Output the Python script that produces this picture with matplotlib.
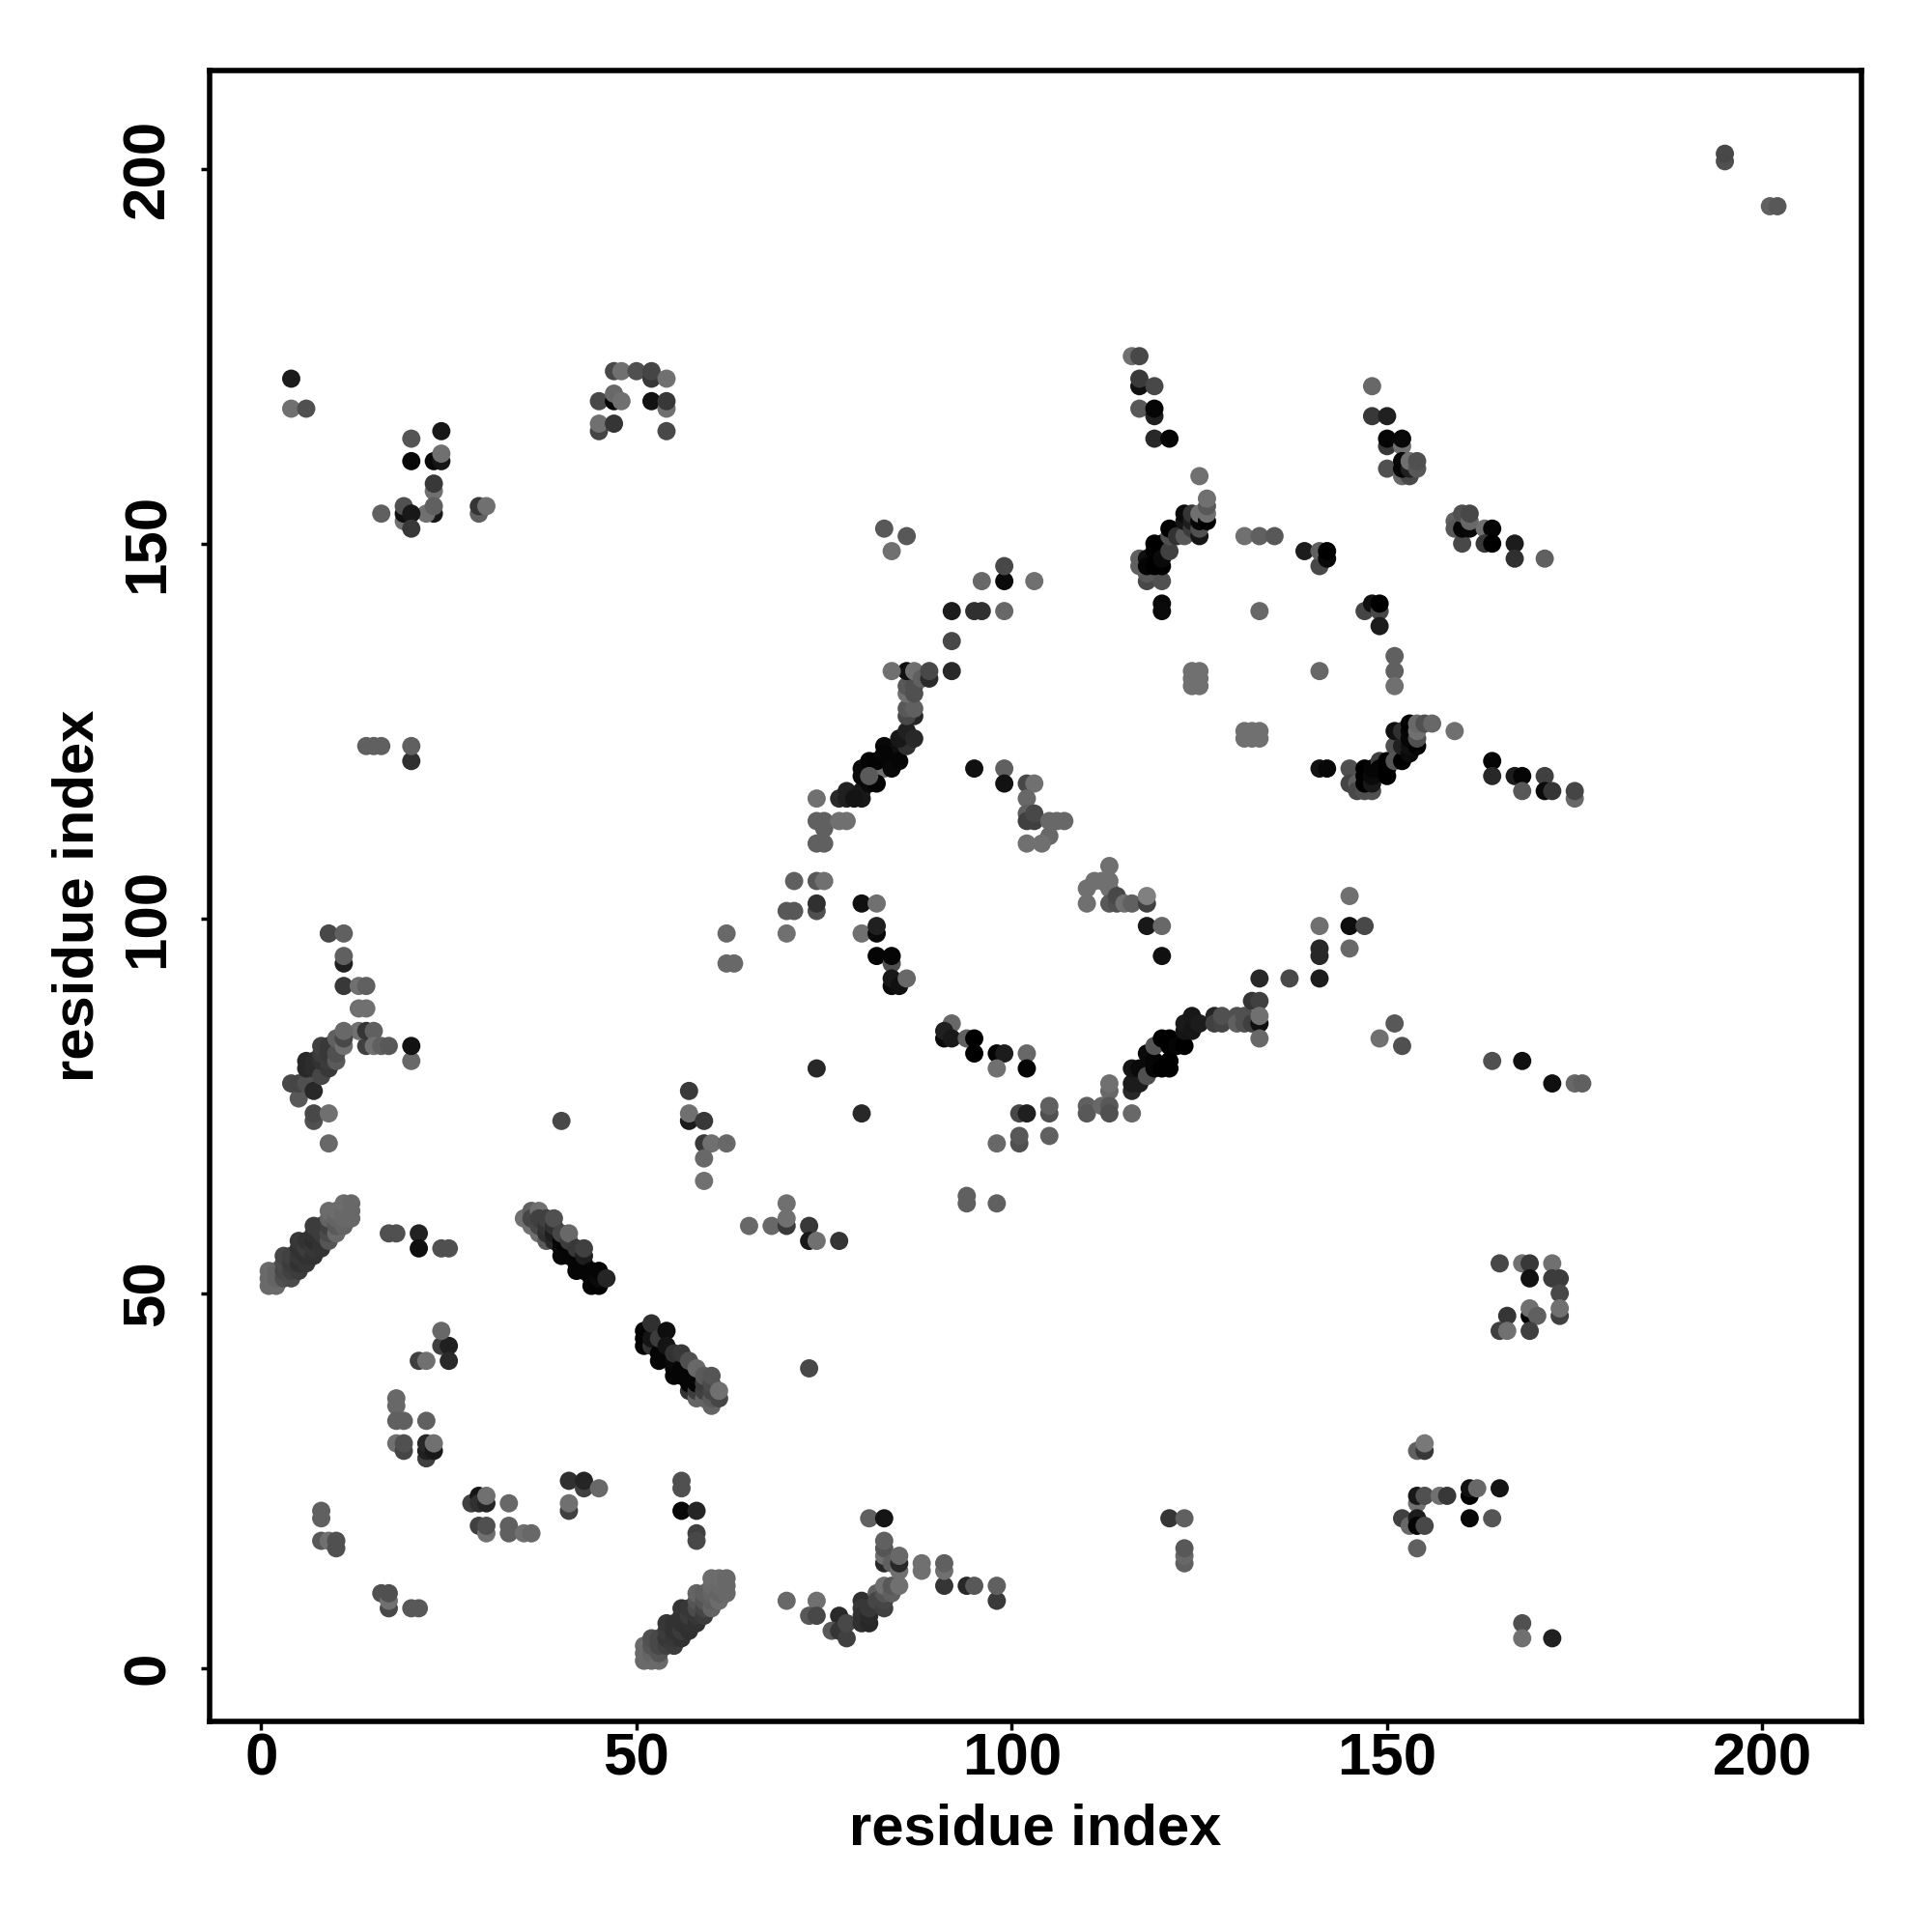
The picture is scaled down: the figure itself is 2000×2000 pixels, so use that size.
#!/usr/bin/env python3
"""Residue contact map, grey level = contact strength."""
import matplotlib
matplotlib.use('Agg')
import matplotlib.pyplot as plt

# each contact is (residue i, residue j, grey 0-255), drawn in list order
helix_a = [(1,51,106),(1,52,106),(1,53,106),(2,51,106),(2,52,100),(2,53,100),
           (3,52,80),(3,53,72),(3,54,75),(3,55,70),(4,52,75),(4,53,65),(4,54,60),(4,55,65),
           (5,53,60),(5,54,50),(5,55,55),(5,56,50),(5,57,55),(6,54,55),(6,55,50),(6,56,60),(6,57,50),
           (7,55,50),(7,56,55),(7,57,45),(7,58,50),(7,59,60),(8,56,52),(8,57,50),(8,58,60),(8,59,60),
           (9,57,85),(9,58,75),(9,59,65),(9,60,100),(9,61,108),(10,58,105),(10,59,90),(10,60,100),(10,61,108),
           (11,59,100),(11,60,104),(11,61,104),(11,62,108),(12,60,104),(12,61,104),(12,62,104)]
helix_a_side = [(17,58,80),(18,58,80),(21,58,34),(21,56,14),(24,56,80),(25,56,80)]
helix_b = [(36,59,112),(35,60,112),(36,61,96),(36,60,70),(37,58,112),(37,61,112),(37,59,72),(37,60,64),
           (38,57,90),(38,58,48),(38,59,53),(38,60,64),(39,57,40),(39,58,30),(39,59,48),(39,60,80),
           (40,55,8),(40,56,8),(40,57,5),(40,58,70),(41,55,5),(41,56,5),(41,57,60),(41,58,104),
           (42,53,5),(42,54,5),(42,55,5),(42,56,56),(43,53,5),(43,54,5),(43,55,30),(43,56,64),
           (44,51,5),(44,52,5),(44,53,5),(45,51,3),(45,52,10),(45,53,5),(46,52,37)]
helix_c = [(51,43,3),(51,44,3),(51,45,3),(52,43,50),(52,44,20),(52,46,48),(53,41,5),(53,42,5),(53,44,60),
           (54,45,14),(54,43,20),(55,39,5),(55,40,5),(55,41,10),(55,42,50),(56,39,5),(56,40,5),(56,42,56),
           (57,37,50),(57,38,5),(57,39,5),(57,41,80),(58,36,100),(58,37,60),(58,38,5),(58,40,104),
           (59,36,100),(59,37,64),(59,38,60),(59,39,90),(60,35,100),(60,36,90),(60,37,70),(60,38,75),(60,39,85),
           (61,36,70),(61,37,112)]
low_left = [(24,43,64),(25,43,32),(25,41,42),(24,45,104),(21,41,64),(22,41,112),
            (18,36,104),(18,35,104),(18,33,96),(19,33,96),(22,33,96),
            (18,30,112),(19,29,69),(19,30,80),(22,28,64),(22,29,32),(22,30,40),(23,29,24),(23,30,112),
            (28,22,64),(29,23,21),(29,22,48),(30,22,37),(30,23,112),(33,22,104),
            (29,19,64),(30,18,112),(30,19,80),(33,19,96),(33,18,96),(35,18,112),(36,18,104),
            (41,25,48),(43,24,64),(43,25,37),(45,24,104),(41,21,64),(41,22,112),
            (56,25,80),(56,24,80),(56,21,8),(58,21,37),(58,18,64),(58,17,72),
            (8,21,96),(8,20,96),(8,17,88),(9,17,112),(10,16,80),(10,17,80),
            (16,10,80),(17,8,72),(17,9,112),(17,10,80),(20,8,88),(21,8,88)]
helix_d = [(51,1,106),(51,2,106),(51,3,106),(52,1,106),(52,2,100),(52,3,85),(52,4,80),
           (53,1,106),(53,2,85),(53,3,72),(53,4,72),(54,3,65),(54,4,55),(54,5,60),(54,6,55),
           (55,3,60),(55,4,55),(55,5,50),(55,6,50),(56,4,50),(56,5,60),(56,6,50),(56,7,50),(56,8,52),
           (57,5,48),(57,6,50),(57,7,60),(57,8,55),(58,6,50),(58,7,55),(58,8,75),(58,9,85),(58,10,100),
           (59,7,60),(59,8,70),(59,9,85),(59,10,95),(60,8,100),(60,9,95),(60,10,100),(60,11,105),(60,12,108),
           (61,9,108),(61,10,100),(61,11,104),(61,12,108),(62,10,104),(62,11,104),(62,12,104)]
low_mid = [(70,9,104),(74,9,112),(73,7,88),(74,7,72),(77,7,42),(76,5,88),(77,5,53),(78,4,64),(78,6,72),
           (80,9,48),(80,8,56),(80,7,50),(80,6,48),(81,6,40),(81,7,42),(81,8,56),
           (82,10,96),(82,9,70),(83,8,64),(83,9,70),(83,10,85),(83,11,112),(84,10,96),(84,11,88),(85,11,112),
           (83,14,40),(83,15,112),(83,16,85),(83,17,96),(84,14,96),(85,13,112),(85,14,40),(85,15,104),
           (81,20,96),(83,20,21),(88,13,112),(88,14,112),(91,11,53),(91,13,112),(91,14,96),
           (94,11,40),(95,11,88),(98,9,58),(98,11,96),
           (121,20,53),(123,20,96),(123,14,96),(123,15,104),(123,16,88)]
mid_row = [(65,59,104),(68,59,104),(70,59,58),(70,60,112),(70,62,112),(73,59,56),(73,57,24),(74,57,112),(77,57,53),
           (73,40,72),(94,63,96),(94,62,96),(98,62,96),(98,70,104),(101,70,80),(101,71,88),(105,71,96),
           (80,74,40),(101,74,72),(102,74,31),(105,74,80),(105,75,96)]
left_arm = [(14,83,64),(9,98,72),(11,98,96),(11,94,32),(11,95,96),(11,91,56),(13,91,112),(14,91,96),
            (13,88,112),(14,88,112),(13,85,112),(14,85,53),(15,85,96),(15,83,112),(16,83,96),(17,83,88),
            (20,81,104),(20,83,18),
            (5,76,88),(4,78,72),(5,78,69),(6,78,80),(7,77,40),(6,81,40),(6,80,40),(7,80,44),(7,81,44),
            (8,79,70),(8,81,50),(8,82,60),(8,83,64),(9,80,56),(9,81,60),(9,82,56),(9,83,56),
            (10,81,90),(10,82,80),(10,84,96),(11,83,112),(11,84,72),(11,85,104),
            (7,73,80),(7,74,72),(9,74,112),(9,70,104),(40,73,72)]
mid_left = [(57,73,26),(57,74,112),(57,77,58),(59,73,56),(59,70,56),(60,70,112),(62,70,104),(59,68,104),(59,65,112),
            (62,98,104),(62,94,104),(63,94,104),(14,123,96),(15,123,96),(16,123,96),(20,121,48),(20,123,96)]
helix_e = [(70,98,112),(70,101,88),(71,101,88),(71,105,96),(74,101,80),(74,102,48),(74,105,88),(75,105,112),
           (74,110,96),(75,110,96),(75,112,96),(74,113,96),(75,113,96),(77,113,112),(78,113,112),
           (74,116,112),(77,116,42),(78,116,32),(78,117,32),(80,116,24),(80,117,24),(79,116,20),(83,120,112),
           (81,118,10),(82,118,5),(80,119,10),(80,120,10),(81,121,5),(82,121,3),(81,119,90),(83,123,8),
           (84,120,8),(84,121,8),(84,122,15),(85,121,5),(83,122,5),(86,123,48),(85,124,24),(86,125,32),(87,124,40),
           (87,127,37),(86,127,72),(86,128,88),(87,128,96),(86,130,112),(86,131,88),(87,130,80),(87,131,80),
           (86,133,16),(84,133,112),(87,133,112),(88,132,96),(89,132,42),(89,133,72),(92,133,40),
           (92,137,72),(92,141,28),(95,141,48),(96,141,48),(99,141,104),
           (96,145,104),(99,145,10),(99,147,72),(103,145,112),(83,152,88),(86,151,88),(84,149,112)]
inner_a = [(95,120,16),(99,120,96),(99,118,18),(102,118,72),(103,118,112),(102,116,104),
           (102,114,96),(102,113,64),(103,113,64),(103,114,72),(105,113,104),(106,113,104),(107,113,104),
           (105,111,104),(102,110,112),(104,110,112)]
inner_b = [(110,102,112),(110,104,112),(111,105,112),(113,107,112),(112,105,112),(113,105,112),(113,104,112),
           (113,102,88),(114,102,80),(114,103,72),(115,102,112),(116,102,96),(118,102,64),(118,103,128),
           (118,99,24),(120,99,104),(120,95,16)]
inner_c = [(80,102,16),(82,102,112),(80,98,112),(82,98,10),(82,99,32),(82,95,5),(84,94,80),(84,95,5),
           (84,91,10),(84,92,24),(85,91,16),(86,92,104),
           (92,86,104),(91,84,10),(91,85,32),(92,84,24),(94,84,96),(95,84,0),(95,82,0),(98,82,5),(99,82,28),
           (102,82,104),(98,80,112),(102,80,5),(74,80,40)]
helix_f = [(110,75,96),(110,74,88),(112,75,104),(113,77,104),(113,78,112),(113,75,88),(113,74,80),(116,74,104),
           (116,77,40),(116,78,28),(117,78,28),(116,80,21),(117,80,10),(118,79,80),(118,82,10),(119,80,5),(119,81,5),
           (120,80,0),(119,83,85),(120,84,0),(121,80,0),(121,81,0),(121,83,0),(121,84,0),(122,83,5),(123,83,0),
           (123,85,20),(123,86,26),(124,85,21),(124,87,24),(125,86,28),(127,87,37),(127,86,64),(128,86,69),(128,87,80),
           (130,87,80),(130,86,96),(131,87,80),(131,86,80),(132,86,64),(132,89,53),(133,86,16),(133,89,64),(133,87,112),
           (133,84,104),(133,92,40),(137,92,72),(141,92,28),(141,96,40),(141,95,40),(141,99,112),
           (145,99,14),(147,99,72),(145,96,104),(145,103,112)]
right_low = [(151,86,88),(149,84,112),(152,83,80),(164,81,80),(168,81,16),(172,78,16),(175,78,104),(176,78,96)]
helix_g = [(141,120,18),(142,120,8),(145,120,80),(145,118,69),(146,118,96),(146,117,72),(147,117,80),(148,117,80),
           (147,120,0),(147,119,0),(147,118,0),(148,118,24),(148,119,10),(148,120,5),(149,121,64),(149,120,5),
           (150,121,0),(150,119,0),(150,120,0),(151,123,80),(151,125,16),(151,121,85),(152,121,0),(152,123,32),(152,125,48),
           (153,122,10),(153,123,16),(153,124,5),(153,125,5),(153,126,0),(154,123,0),(154,124,80),(154,125,112),(154,126,104),
           (155,126,80),(156,126,104),(159,125,112)]
right_mid = [(164,121,5),(164,119,40),(167,119,28),(168,119,5),(168,117,88),(171,119,64),(171,117,10),(172,117,53),
             (175,116,104),(175,117,69),(124,133,112),(125,133,112),(124,132,112),(125,132,112),(124,131,112),(125,131,112),
             (131,125,112),(132,125,112),(133,125,112),(131,124,112),(132,124,112),(133,124,112),
             (133,141,104),(141,133,104),(151,135,96),(151,133,96),(151,131,112),
             (147,141,69),(148,142,16),(149,141,72),(149,142,0),(149,139,28)]
helix_h = [(116,175,112),(117,175,72),(117,171,16),(117,172,58),(119,171,72),(117,168,88),(119,167,32),(119,168,5),
           (119,164,40),(121,164,5),(125,159,112),
           (118,145,72),(120,145,80),(118,146,88),(117,148,96),(117,147,96),(118,148,16),(118,147,5),(119,147,0),(120,147,0),
           (119,149,0),(119,150,0),(120,150,0),(120,148,10),(121,149,64),(121,151,80),(121,152,0),
           (120,142,8),(120,141,10),(122,151,50),(123,151,88),(123,153,21),(123,154,10),(124,152,60),(124,153,30),(124,154,53),
           (125,151,21),(125,152,80),(125,153,5),(125,154,112),(126,153,0),(126,154,112),(126,155,88),(126,156,112)]
top_right = [(131,151,112),(133,151,96),(135,151,88),(139,149,28),(141,147,72),(141,149,96),(142,148,8),(142,149,0),
             (148,171,104),(148,167,56),(150,167,32),(150,163,56),(150,164,5),(152,163,112),(152,164,8),
             (150,160,80),(152,159,104),(153,159,72),(152,161,8),(152,160,5),(153,160,32),(153,161,112),(154,160,88),(154,161,80),
             (159,153,96),(159,152,88),(160,150,72),(160,152,5),(161,152,8),(160,154,80),(161,153,104),(161,154,72),
             (163,152,112),(164,152,5),(163,150,56),(164,150,0),(167,150,28),(167,148,48),(171,148,96),
             (195,201,80),(195,202,72),(201,195,96),(202,195,88)]
top_left = [(4,172,28),(4,168,112),(6,168,80),(20,164,85),(24,165,24),(20,161,8),(23,161,8),(24,161,21),(24,162,112),
            (23,157,112),(23,158,56),(23,154,24),(22,154,112),(23,155,96),(19,153,112),(19,154,16),(19,155,80),(20,154,24),
            (20,152,56),(16,154,96),(29,154,96),(29,155,53),(30,155,112)]
top_arc = [(47,173,72),(48,173,112),(50,173,80),(52,172,56),(52,173,69),(54,172,112),(45,169,72),(47,169,5),(47,170,104),
           (48,169,112),(52,169,18),(54,168,112),(54,169,56),(45,165,69),(45,166,112),(47,166,53),(54,165,72)]
right_block = [(165,54,72),(168,54,112),(169,54,56),(172,54,112),(169,52,18),(172,52,60),(173,52,60),(173,50,72),
               (173,47,64),(173,48,112),(169,47,5),(169,48,112),(170,47,96),(166,47,53),(165,45,64),(166,45,112),(169,45,64)]
low_right = [(154,29,96),(155,29,56),(155,30,120),(154,22,112),(154,23,24),(155,23,80),(157,23,112),(158,23,56),
             (152,20,64),(153,19,104),(154,20,28),(154,19,5),(155,19,72),(154,16,96),
             (161,23,0),(161,24,16),(162,24,104),(165,24,21),(161,20,8),(164,20,85),(168,6,80),(168,4,112),(172,4,32)]

clusters = [helix_a, helix_a_side, helix_b, helix_c, low_left, helix_d, low_mid, mid_row, left_arm, mid_left,
            helix_e, inner_a, inner_b, inner_c, helix_f, right_low, helix_g, right_mid, helix_h, top_right,
            top_left, top_arc, right_block, low_right]
axis_name = 'residue index'
ticks = [0, 50, 100, 150, 200]

plt.rcParams['font.family'] = ['Liberation Sans', 'DejaVu Sans']
plt.rcParams['font.weight'] = 'bold'

fig = plt.figure(figsize=(20, 20), dpi=100)
ax = fig.add_axes([217/2000, 1 - 1782/2000, 1710/2000, 1709/2000])

for cluster in clusters:
    xs = [c[0] for c in cluster]
    ys = [c[1] for c in cluster]
    cols = [(c[2]/255, c[2]/255, c[2]/255) for c in cluster]
    ax.scatter(xs, ys, s=185, c=cols, linewidths=0, zorder=3)

ax.set_xlim(-6.87, 213.2)
ax.set_ylim(-7.09, 213.1)
ax.set_xticks(ticks)
ax.set_yticks(ticks)
ax.tick_params(length=6.6, width=2.5, labelsize=44.5)
ax.tick_params(axis='x', pad=2)
ax.tick_params(axis='y', pad=18)
for lab in ax.get_yticklabels():
    lab.set_rotation(90)
    lab.set_va('center')
for side in ax.spines.values():
    side.set_linewidth(4)

fig.text(1072/2000, 1 - 1894/2000, axis_name, fontsize=43, ha='center', va='center', fontweight='bold')
fig.text(81/2000, 1 - 927/2000, axis_name, fontsize=43, ha='center', va='center', rotation=90, fontweight='bold')

fig.savefig('out.png', dpi=100)
